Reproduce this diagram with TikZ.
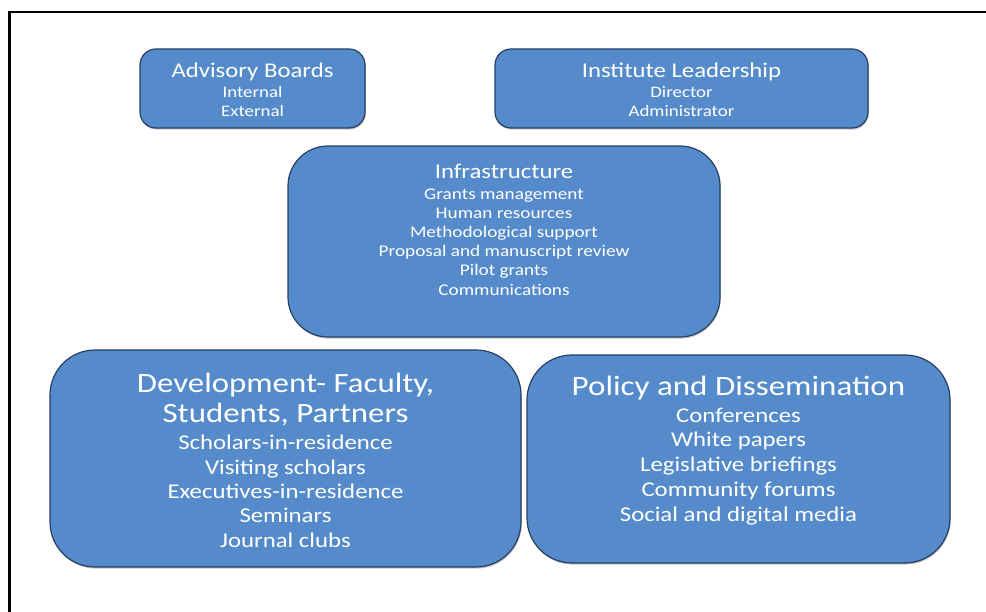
\documentclass[tikz,border=0pt]{standalone}
\usepackage{fontspec}
\setmainfont{Carlito}[FakeStretch=1.18]
\usetikzlibrary{positioning, shadows}
\definecolor{boxblue}{RGB}{86,139,203}
\definecolor{boxedge}{RGB}{38,64,100}

\begin{document}
\setlength{\lineskiplimit}{-50pt}
\begin{tikzpicture}[
    x=1pt, y=-1pt,
    box/.style={
        draw=boxedge,
        line width=1.2pt,
        fill=boxblue,
        rounded corners=#1,
        inner sep=0pt,
        drop shadow={shadow xshift=0.8pt, shadow yshift=-1.6pt, opacity=0.45}
    },
    box/.default=16pt,
    boxtext/.style={
        align=center,
        text=white,
        inner sep=0pt
    },
    smallfont/.style={font=\fontsize{16}{18.6}\selectfont},
    midfont/.style={font=\fontsize{16.3}{19.2}\selectfont},
    bigfont/.style={font=\fontsize{21}{24.3}\selectfont}
]

\useasboundingbox (0,0) rectangle (986,612);
\draw[line width=2.5pt] (9.5,612) -- (9.5,12) -- (986,12);

\node[box, minimum width=225pt, minimum height=79pt] (adv) at (252.5,88.5) {};
\node[box, minimum width=373pt, minimum height=79pt] (lead) at (681.5,88.5) {};
\node[box=40pt, minimum width=432pt, minimum height=191pt] (infra) at (504,241.5) {};
\node[box=45pt, minimum width=471pt, minimum height=217pt] (dev) at (285.5,458.5) {};
\node[box=45pt, minimum width=423pt, minimum height=208pt] (pol) at (738.5,459) {};

\node[boxtext, smallfont, below=14.5pt of adv.north] (advtext)
    {{\fontsize{21}{20}\selectfont Advisory Boards}\\[1.4pt]Internal\\[0.4pt]External};
\node[boxtext, smallfont, below=14.5pt of lead.north] (leadtext)
    {{\fontsize{21}{20}\selectfont Institute Leadership}\\[1.4pt]Director\\[0.4pt]Administrator};
\node[boxtext, midfont, below=18.8pt of infra.north] (infratext)
    {{\fontsize{21}{20}\selectfont Infrastructure}\\[1.2pt]Grants management\\Human resources\\
     Methodological support\\Proposal and manuscript review\\Pilot grants\\Communications};
\node[boxtext, bigfont, below=23.7pt of dev.north] (devtext)
    {{\fontsize{27.9}{30}\selectfont Development- Faculty,}\\[5.7pt]
     {\fontsize{27.9}{30}\selectfont Students, Partners}\\[3pt]
     Scholars-in-residence\\Visiting scholars\\Executives-in-residence\\Seminars\\Journal clubs};
\node[boxtext, bigfont, below=21.8pt of pol.north] (poltext)
    {{\fontsize{28}{30}\selectfont Policy and Dissemination}\\[2pt]
     Conferences\\[0.5pt]White papers\\[0.5pt]Legislative briefings\\[0.5pt]Community forums\\[0.5pt]Social and digital media};

\end{tikzpicture}
\end{document}
